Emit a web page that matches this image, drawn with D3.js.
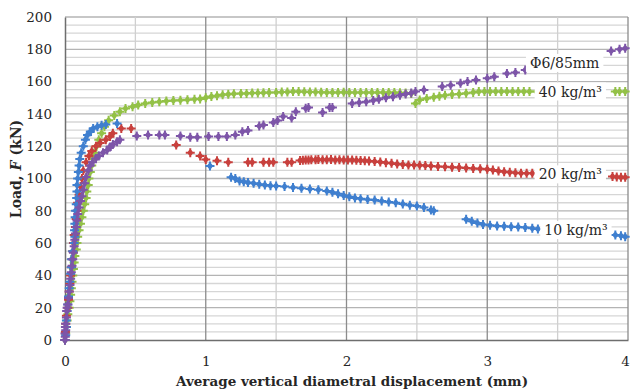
<!DOCTYPE html>
<html><head><meta charset="utf-8">
<script src="https://cdn.jsdelivr.net/npm/d3@7"></script>
<style>
html,body{margin:0;padding:0;background:#fff;}
svg{display:block;}
text{font-family:"DejaVu Serif","Liberation Serif",serif;}
</style></head>
<body><svg id="c" width="630" height="390"></svg>
<script>
// ---- data ----
const xTicks = [0, 1, 2, 3, 4];
const yTicks = [0, 20, 40, 60, 80, 100, 120, 140, 160, 180, 200];

const s10x = [0,0.005,0.01,0.01,0.015,0.02,0.025,0.03,0.035,0.04,0.045,0.047,0.055,0.065,0.07,0.068,0.07,0.072,0.075,0.08,0.083,0.085,0.085,0.09,0.095,0.1,0.105,0.115,0.13,0.145,0.16,0.18,0.2,0.23,0.26,0.29,0.37,
  1.03,1.18,1.21,1.24,1.27,1.3,1.34,1.38,1.42,1.46,1.5,1.56,1.62,1.68,1.74,1.8,1.86,1.9,1.94,1.98,2.02,2.06,2.1,2.15,2.2,2.25,2.3,2.35,2.4,2.45,2.5,2.55,2.6,2.62,
  2.85,2.89,2.93,2.97,3.02,3.07,3.12,3.17,3.22,3.27,3.32,3.36,3.91,3.95,3.98];
const s10y = [0,3,8,12,18,22,27,32,36,41,45,50,55,60,64,68,72,76,80,84,88,92,96,100,104,108,112,116,120,124,127,129,131,132,133,133.5,134,
  107.7,100.7,100,98.5,98,97.5,97,96.5,96,95.5,95.4,95,94.5,94,93.5,93,92.3,91.5,90.5,89.5,88.7,88,87.5,87,86.7,86,85.5,85,84.2,83.5,83,82,80.5,80,
  74.7,73.5,72.5,71.5,71,70.6,70.4,70.2,70,69.6,69.2,68.8,65,64.5,64];

const s20x = [0,0.003,0.005,0.01,0.02,0.025,0.03,0.035,0.04,0.045,0.05,0.055,0.06,0.065,0.075,0.08,0.085,0.09,0.1,0.11,0.12,0.13,0.15,0.17,0.19,0.22,0.25,0.29,0.32,0.34,0.40,0.47,
  0.79,0.89,0.96,1.0,1.08,1.16,1.3,1.33,1.41,1.45,1.48,1.58,1.61,1.67,1.69,1.71,1.73,1.75,1.78,1.8,1.83,1.86,1.89,1.92,1.95,1.98,2.01,2.04,2.07,2.1,2.13,2.16,2.2,2.24,2.28,2.32,2.36,2.4,2.44,2.48,2.52,2.56,2.6,2.65,2.7,2.75,2.8,2.85,2.9,2.95,3.0,3.04,3.08,3.12,3.16,3.2,3.24,3.28,3.32,
  3.89,3.92,3.95,3.98];
const s20y = [0,5,10,15,20,25,30,35,40,45,50,55,60,65,70,75,80,85,90,95,100,105,110,114,117,120,122,124,126,128,131,131,
  120.7,116,114,111.8,111,110,110,110,110,110,110,110,110,111.2,111.3,111.5,111.5,111.6,111.6,111.7,111.6,111.6,111.7,111.5,111.6,111.5,111.4,111.5,111.3,111.2,111,110.8,110.5,110.2,109.8,109.4,109,108.6,108.4,108.3,108.2,108,107.8,107.5,107.2,107,106.8,106.5,106.2,106,105.7,105.2,104.6,104.2,103.8,103.5,103.3,103.2,103.2,
  101.2,101,100.8,100.7];

const s40x = [0,0.005,0.01,0.015,0.02,0.03,0.035,0.04,0.045,0.05,0.055,0.06,0.065,0.07,0.08,0.085,0.09,0.1,0.11,0.12,0.13,0.14,0.15,0.155,0.165,0.17,0.18,0.19,0.2,0.21,0.225,0.24,0.26,0.28,0.31,0.35,0.39,0.43,0.48,0.52,0.57,0.62,0.67,0.72,0.77,0.82,0.87,0.92,0.96,1.0,1.04,1.08,1.12,1.16,1.2,1.25,1.29,
  1.33,1.37,1.41,1.45,1.5,1.54,1.58,1.62,1.66,1.7,1.74,1.78,1.82,1.86,1.9,1.94,1.98,2.02,2.06,2.1,2.14,2.18,2.22,2.26,2.3,2.34,2.38,2.42,2.46,
  2.49,2.52,2.57,2.62,2.66,2.7,2.75,2.8,2.85,2.9,2.94,2.98,3.02,3.06,3.1,3.14,3.18,3.22,3.26,3.3,3.35,3.91,3.94,3.98];
const s40y = [0,4,8,12,16,20,24,28,32,36,40,44,48,52,56,60,64,68,72,76,80,84,88,92,96,100,104,108,112,116,120,124,128,132,136,139,141.3,143.4,144.5,145.5,146.5,147,147.5,148,148.3,148.5,148.8,149,149.3,150,150.8,151.3,151.8,152.2,152.5,152.6,152.7,
  152.9,153,153.1,153.2,153.3,153.5,153.6,153.8,153.8,153.7,153.6,153.5,153.4,153.3,153.3,153.3,153.4,153.3,153.3,153.3,153.2,153.3,153.3,153.3,153.3,153.2,153.1,153,152.7,
  146.5,148.6,149.5,150.3,151,151.5,152,152.3,152.8,153.3,153.8,153.8,153.8,153.8,153.8,153.8,153.8,153.8,153.8,153.8,153.8,153.8,153.8,153.8];

const sPx = [0,0.002,0,0.005,0.003,0.005,0.01,0.012,0.015,0.02,0.025,0.03,0.035,0.04,0.045,0.05,0.055,0.06,0.065,0.07,0.075,0.08,0.085,0.09,0.1,0.11,0.12,0.13,0.14,0.15,0.165,0.18,0.195,0.22,0.24,0.27,0.30,0.32,0.34,0.37,0.39,
  0.51,0.59,0.67,0.71,0.82,0.89,0.94,1.02,1.09,1.15,1.21,1.26,1.30,1.38,1.41,1.48,1.51,1.55,1.61,1.64,1.71,1.73,1.83,1.88,1.90,
  2.04,2.09,2.14,2.19,2.23,2.28,2.33,2.38,2.42,2.46,2.49,2.55,2.68,2.74,2.81,2.86,2.92,3.0,3.05,3.14,3.20,3.27,3.88,3.94,3.98];
const sPy = [0,2,4,6,8,10,14,18,20,22,26,30,34,38,42,46,50,54,58,62,66,70,74,78,82,86,89,93,97,101,105,108,110,112.4,114,116,117.6,119.5,121,122.8,124,
  126.3,127,127,127,126.3,125.5,125.5,126,126,126,127,129,129.7,132.5,133.1,134.6,135.9,138.4,137.4,141.4,143.5,144,140.9,144,144,
  146.5,147,147.5,148.3,149,150,150.6,151.5,152.3,153,153.8,154.8,156.9,157.8,159,160,161,162,163,165,165.7,167.2,179,180,180.6];

const seriesNames = ["10 kg/m³", "20 kg/m³", "40 kg/m³", "Φ6/85mm"];
const seriesColors = ["#3f7fcf", "#c8403d", "#93c147", "#7d55a8"];
const seriesX = [s10x, s20x, s40x, sPx];
const seriesY = [s10y, s20y, s40y, sPy];
// label anchor values
const labelX = [3.63, 3.59, 3.59, 3.55];
const labelY = [68, 102.5, 153.8, 171.5];

// ---- drawing ----
const svg = d3.select("#c");
const W = 630, H = 390;
const m = {l: 65, r: 2, t: 17, b: 50};
const x = d3.scaleLinear().domain([0, 4]).range([m.l, W - m.r]);
const y = d3.scaleLinear().domain([0, 200]).range([H - m.b, m.t]);

const g = svg.append("g");
g.append("g").selectAll("line").data(d3.range(5, 201, 5)).join("line")
  .attr("x1", x(0)).attr("x2", x(4))
  .attr("y1", d => y(d)).attr("y2", d => y(d))
  .attr("stroke", d => d % 20 === 0 ? "#b4b4b4" : "#d6d6d6")
  .attr("stroke-width", 1.3);
g.append("g").selectAll("line").data(d3.range(0.5, 4.01, 0.5)).join("line")
  .attr("y1", y(0)).attr("y2", y(200))
  .attr("x1", d => x(d)).attr("x2", d => x(d))
  .attr("stroke", d => Number.isInteger(d) ? "#8c8c8c" : "#d0d0d0")
  .attr("stroke-width", 1.3);

const xAxis = d3.axisBottom(x).tickValues(xTicks).tickSize(0).tickPadding(16).tickFormat(d3.format("d"));
const yAxis = d3.axisLeft(y).tickValues(yTicks).tickSize(0).tickPadding(13);
const gx = svg.append("g").attr("transform", `translate(0,${y(0)})`).call(xAxis);
const gy = svg.append("g").attr("transform", `translate(${x(0)},0)`).call(yAxis);
[gx, gy].forEach(a => {
  a.select(".domain").attr("stroke", "#6e6e6e").attr("stroke-width", 1.5);
  a.selectAll("text").attr("font-family", "DejaVu Serif").attr("font-size", 13.5).attr("fill", "#262626");
});
// keep the last x tick label inside the page
gx.selectAll(".tick").filter(d => d === 4).select("text").attr("dx", -3);

const markerPath = "M0,-4.2L3.2,0L0,4.2L-3.2,0Z M-4.5,-1L4.5,-1L4.5,1L-4.5,1Z M-1,-4.5L1,-4.5L1,4.5L-1,4.5Z";
const order = [2, 1, 0, 3];
order.forEach(i => {
  const pts = seriesX[i].map((v, k) => [v, seriesY[i][k]]);
  svg.append("g").selectAll("path").data(pts).join("path")
    .attr("d", markerPath)
    .attr("transform", d => `translate(${x(d[0])},${y(d[1])})`)
    .attr("fill", seriesColors[i]);
});

seriesNames.forEach((name, i) => {
  const lg = svg.append("g").attr("transform", `translate(${x(labelX[i])},${y(labelY[i])})`);
  const rect = lg.append("rect").attr("fill", "#fff");
  const t = lg.append("text").attr("text-anchor", "middle").attr("dy", "0.35em")
    .attr("font-size", 14).attr("fill", "#262626").text(name);
  const bb = t.node().getBBox();
  rect.attr("x", bb.x - 4).attr("y", bb.y - 1).attr("width", bb.width + 8).attr("height", bb.height + 2);
});

svg.append("text").attr("x", 352).attr("y", 386).attr("text-anchor", "middle")
  .attr("font-weight", "bold").attr("font-size", 13.5).attr("fill", "#262626")
  .text("Average vertical diametral displacement (mm)");
const yt = svg.append("text").attr("transform", "translate(21,169) rotate(-90)")
  .attr("text-anchor", "middle").attr("font-weight", "bold").attr("font-size", 14).attr("fill", "#262626");
yt.append("tspan").text("Load, ");
yt.append("tspan").attr("font-style", "italic").text("F");
yt.append("tspan").text(" (kN)");
</script></body></html>
